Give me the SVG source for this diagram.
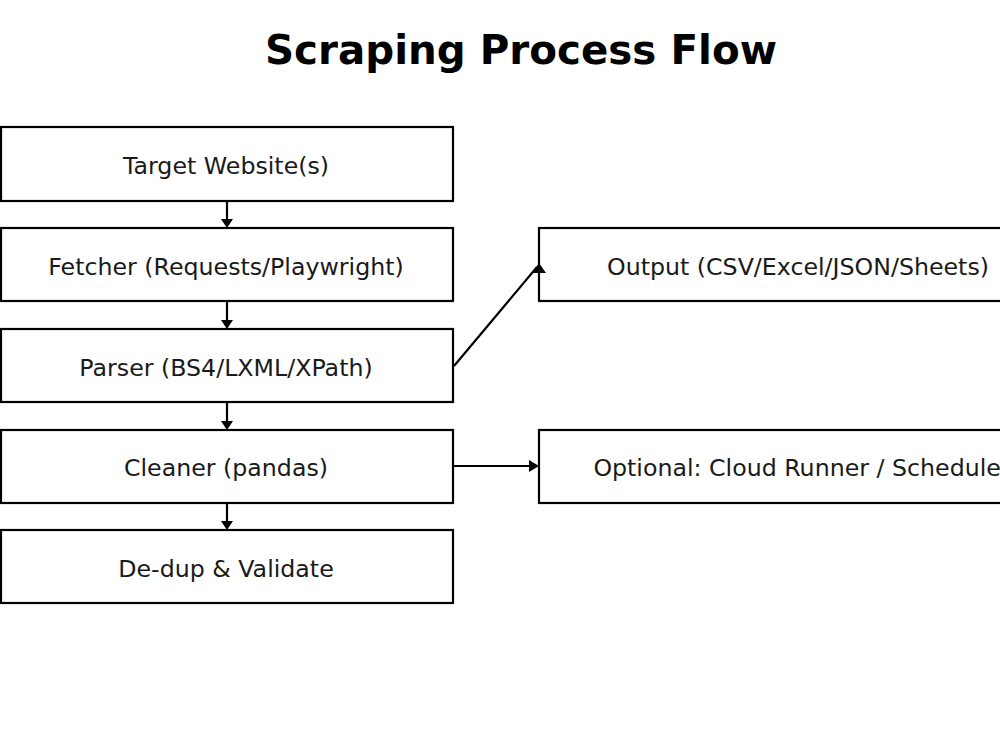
<svg xmlns="http://www.w3.org/2000/svg" width="1000" height="750" viewBox="0 0 1000 750">
<style>
.box{fill:#fff;stroke:#000;stroke-width:2.2}
.lbl{font-family:"DejaVu Sans",sans-serif;font-size:23.7px;fill:#1a1a1a;text-anchor:middle;dominant-baseline:central}
.title{font-family:"DejaVu Sans",sans-serif;font-size:40.4px;font-weight:bold;fill:#000;text-anchor:middle}
.ln{stroke:#000;stroke-width:2.2;fill:none}
.hd{fill:#000}
</style>
<rect width="1000" height="750" fill="#fff"/>
<text class="title" x="521" y="64">Scraping Process Flow</text>
<g id="target"><rect class="box" x="1" y="127" width="452" height="74"/><text class="lbl" x="226" y="166">Target Website(s)</text></g>
<g id="fetcher"><rect class="box" x="1" y="228" width="452" height="73"/><text class="lbl" x="226" y="267">Fetcher (Requests/Playwright)</text></g>
<g id="parser"><rect class="box" x="1" y="329" width="452" height="73"/><text class="lbl" x="226" y="368">Parser (BS4/LXML/XPath)</text></g>
<g id="cleaner"><rect class="box" x="1" y="430" width="452" height="73"/><text class="lbl" x="226" y="468">Cleaner (pandas)</text></g>
<g id="dedup"><rect class="box" x="1" y="530" width="452" height="73"/><text class="lbl" x="226" y="569">De-dup &amp; Validate</text></g>
<g id="output"><rect class="box" x="539" y="228" width="518" height="73"/><text class="lbl" x="798" y="267">Output (CSV/Excel/JSON/Sheets)</text></g>
<g id="optional"><rect class="box" x="539" y="430" width="518" height="73"/><text class="lbl" x="802" y="468">Optional: Cloud Runner / Scheduler</text></g>
<g id="connectors">
<line class="ln" x1="227" y1="201" x2="227" y2="221"/><polygon class="hd" points="221,219 233,219 227,228"/>
<line class="ln" x1="227" y1="301" x2="227" y2="321"/><polygon class="hd" points="221,320 233,320 227,329"/>
<line class="ln" x1="227" y1="402" x2="227" y2="422"/><polygon class="hd" points="221,421 233,421 227,430"/>
<line class="ln" x1="227" y1="503" x2="227" y2="523"/><polygon class="hd" points="221,521 233,521 227,530"/>
<line class="ln" x1="454" y1="366" x2="537" y2="267"/><polygon class="hd" points="539,263 532,273 546,273"/>
<line class="ln" x1="454" y1="466" x2="531" y2="466"/><polygon class="hd" points="529,460 529,472 539,466"/>
</g>
</svg>
